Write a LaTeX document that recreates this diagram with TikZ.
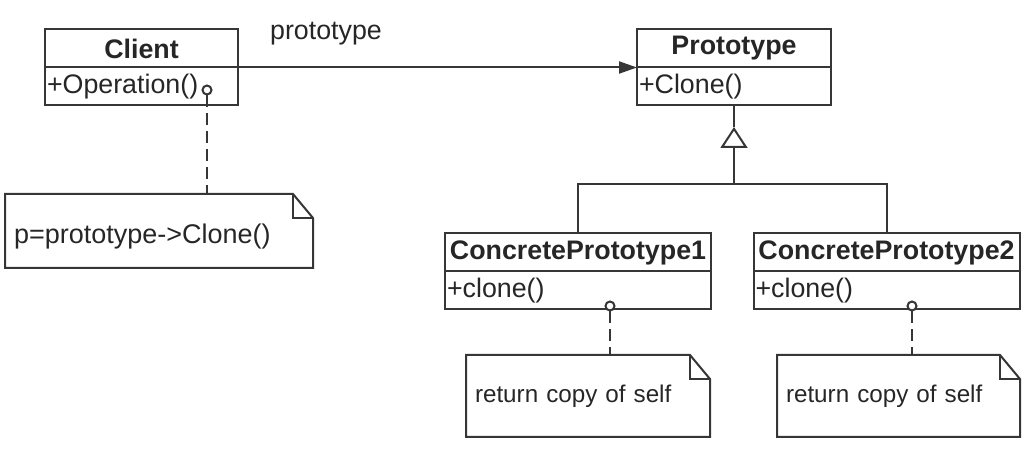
\documentclass[tikz,border=0pt]{standalone}
\usepackage{fontspec}
\setmainfont{Liberation Sans}
\usetikzlibrary{positioning,calc,arrows.meta}
\definecolor{umlline}{HTML}{363636}
\definecolor{umltext}{HTML}{262626}

% dog-eared outline round a note node
\newcommand{\noteoutline}[1]{%
  \draw (#1.north west) -- ([xshift=-10pt]#1.north east) -- ([yshift=-12pt]#1.north east)
    -- (#1.south east) -- (#1.south west) -- cycle;
  \draw ([xshift=-10pt]#1.north east) |- ([yshift=-12pt]#1.north east);
}

\begin{document}
\begin{tikzpicture}[x=0.5pt, y=-0.5pt, line width=1pt, color=umlline, text=umltext,
  classtitle/.style={draw, outer sep=0pt, inner sep=0pt, minimum height=19pt,
    font=\fontsize{13.4}{15}\selectfont\bfseries},
  classops/.style={draw, outer sep=0pt, inner xsep=1pt, inner ysep=0pt, minimum height=19pt,
    align=left, font=\fontsize{13.4}{15}\selectfont},
  notebox/.style={outer sep=0pt, inner xsep=4.5pt, inner ysep=0pt, align=left,
    font=\fontsize{12.1}{14}\selectfont},
  anchorring/.style={circle, draw, fill=white, inner sep=0pt, minimum size=4.5pt},
  notelink/.style={dash pattern=on 6pt off 3pt}]
  \useasboundingbox (0,0) rectangle (1025,449);

  % Client
  \node[classtitle, minimum width=96.5pt] (clienttitle) at (141.5,48.5) {Client};
  \node[classops, text width=94.5pt, below=0pt of clienttitle] (clientops) {+Operation()};

  % Prototype
  \node[classtitle, minimum width=97pt] (prototitle) at (734,48.5) {Prototype};
  \node[classops, text width=95pt, below=0pt of prototitle] (protoops) {+Clone()};

  % concrete prototypes
  \node[classtitle, minimum width=133pt] (cponetitle) at (578,252.5) {ConcretePrototype1};
  \node[classops, text width=131pt, below=0pt of cponetitle] (cponeops) {+clone()};
  \node[classtitle, minimum width=133pt] (cptwotitle) at (886.5,252.5) {ConcretePrototype2};
  \node[classops, text width=131pt, below=0pt of cptwotitle] (cptwoops) {+clone()};

  % association
  \draw[-{Triangle[length=9pt,width=6pt]}] (clienttitle.south east) -- (prototitle.south west);
  \node[font=\fontsize{13.4}{15}\selectfont] (rolelabel) at (326,34) {prototype};

  % generalization
  \coordinate (apex) at (734,127);
  \coordinate (junction) at (734,184);
  \draw (protoops.south) -- (apex);
  \draw[-{Triangle[open,length=10.5pt,width=13.5pt]}] (junction) -- (apex);
  \draw (cponetitle.north) |- (junction) -| (cptwotitle.north);

  % notes
  \node[notebox, font=\fontsize{13.5}{15}\selectfont, text width=145pt, minimum height=37pt]
    (noteclient) at (159,231) {\raisebox{-3pt}[\height][\depth]{p=prototype->Clone()}};
  \node[notebox, text width=113pt, minimum height=41pt] (noteone) at (588,396) {return copy of self};
  \node[notebox, text width=112.5pt, minimum height=41pt] (notetwo) at (898.5,396) {return copy of self};
  \noteoutline{noteclient}
  \noteoutline{noteone}
  \noteoutline{notetwo}

  % note links
  \node[anchorring] (clientring) at (207,90) {};
  \node[anchorring] (cponering) at (610,306) {};
  \node[anchorring] (cptworing) at (912,306) {};
  \draw[notelink] (clientring.south) -- (clientring.south |- noteclient.north);
  \draw[notelink] (cponering.south) -- (cponering.south |- noteone.north);
  \draw[notelink] (cptworing.south) -- (cptworing.south |- notetwo.north);
\end{tikzpicture}
\end{document}
